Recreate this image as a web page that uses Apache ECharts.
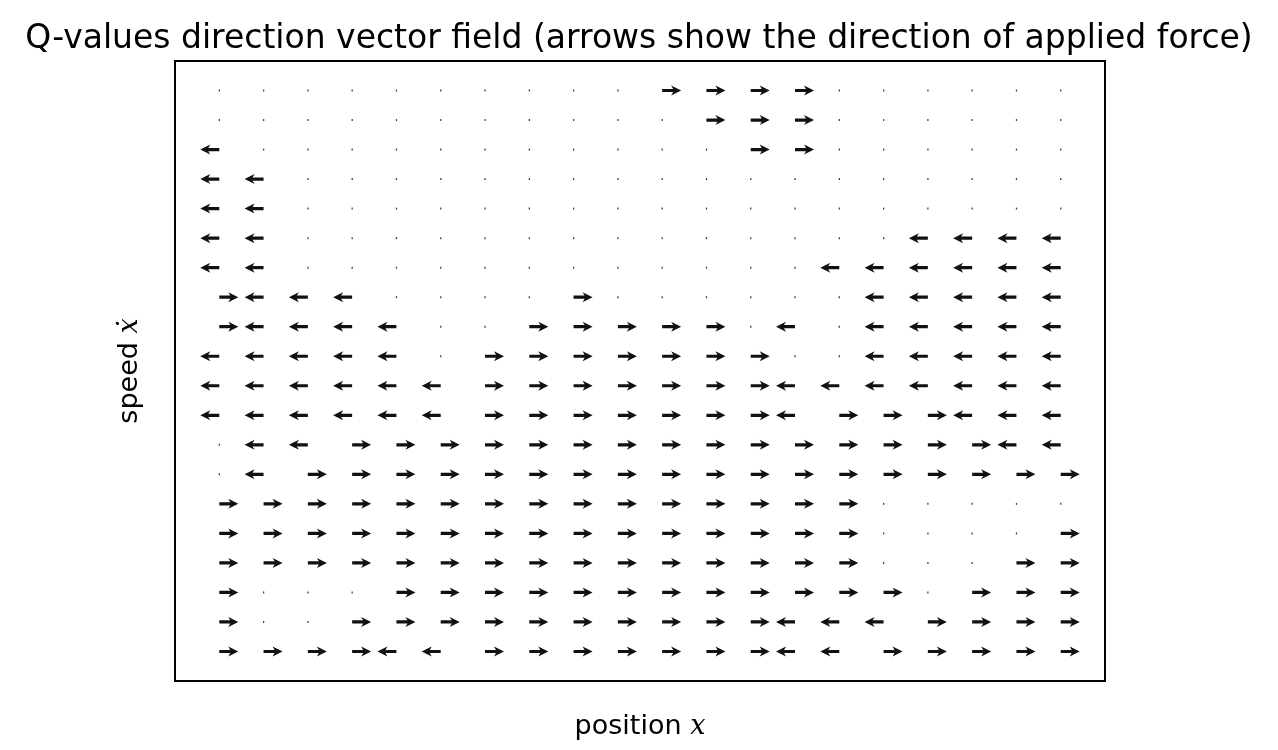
<!DOCTYPE html>
<html>
<head>
<meta charset="utf-8">
<script src="https://cdn.jsdelivr.net/npm/echarts@6/dist/echarts.min.js"></script>
<style>html,body{margin:0;background:#fff}#main{width:1278px;height:750px}</style>
</head>
<body>
<div id="main"></div>
<script>
// grid of chosen actions: -1 push left, 0 none, 1 push right (row 0 = top)
var positions = [0,1,2,3,4,5,6,7,8,9,10,11,12,13,14,15,16,17,18,19];
var speeds = [0,1,2,3,4,5,6,7,8,9,10,11,12,13,14,15,16,17,18,19];
var directions = [
    [0,0,0,0,0,0,0,0,0,0,1,1,1,1,0,0,0,0,0,0],
    [0,0,0,0,0,0,0,0,0,0,0,1,1,1,0,0,0,0,0,0],
    [-1,0,0,0,0,0,0,0,0,0,0,0,1,1,0,0,0,0,0,0],
    [-1,-1,0,0,0,0,0,0,0,0,0,0,0,0,0,0,0,0,0,0],
    [-1,-1,0,0,0,0,0,0,0,0,0,0,0,0,0,0,0,0,0,0],
    [-1,-1,0,0,0,0,0,0,0,0,0,0,0,0,0,0,-1,-1,-1,-1],
    [-1,-1,0,0,0,0,0,0,0,0,0,0,0,0,-1,-1,-1,-1,-1,-1],
    [1,-1,-1,-1,0,0,0,0,1,0,0,0,0,0,0,-1,-1,-1,-1,-1],
    [1,-1,-1,-1,-1,0,0,1,1,1,1,1,0,-1,0,-1,-1,-1,-1,-1],
    [-1,-1,-1,-1,-1,0,1,1,1,1,1,1,1,0,0,-1,-1,-1,-1,-1],
    [-1,-1,-1,-1,-1,-1,1,1,1,1,1,1,1,-1,-1,-1,-1,-1,-1,-1],
    [-1,-1,-1,-1,-1,-1,1,1,1,1,1,1,1,-1,1,1,1,-1,-1,-1],
    [0,-1,-1,1,1,1,1,1,1,1,1,1,1,1,1,1,1,1,-1,-1],
    [0,-1,1,1,1,1,1,1,1,1,1,1,1,1,1,1,1,1,1,1],
    [1,1,1,1,1,1,1,1,1,1,1,1,1,1,1,0,0,0,0,0],
    [1,1,1,1,1,1,1,1,1,1,1,1,1,1,1,0,0,0,0,1],
    [1,1,1,1,1,1,1,1,1,1,1,1,1,1,1,0,0,0,1,1],
    [1,0,0,0,1,1,1,1,1,1,1,1,1,1,1,1,0,1,1,1],
    [1,0,0,1,1,1,1,1,1,1,1,1,1,-1,-1,-1,1,1,1,1],
    [1,1,1,1,-1,-1,1,1,1,1,1,1,1,-1,-1,1,1,1,1,1]
];

var data = [];
speeds.forEach(function (r) {
    positions.forEach(function (c) {
        data.push([c, r, directions[r][c]]);
    });
});

var myChart = echarts.init(document.getElementById('main'));

function renderArrow(params, api) {
    var p = api.coord([api.value(0), api.value(1)]);
    var d = api.value(2);
    if (d === 0) {
        return {type: 'rect', shape: {x: p[0] - 0.6, y: p[1] - 1, width: 1.3, height: 2},
            style: {fill: '#444'}};
    }
    var x = p[0], y = p[1];
    var pts = [
        [x, y - 1.6], [x + d * 11, y - 1.6], [x + d * 9, y - 5], [x + d * 19, y],
        [x + d * 9, y + 5], [x + d * 11, y + 1.6], [x, y + 1.6]
    ];
    return {type: 'polygon', shape: {points: pts}, style: {fill: '#111'}};
}

var option = {
    animation: false,
    title: {
        text: 'Q-values direction vector field (arrows show the direction of applied force)',
        left: 'center', top: 18,
        textStyle: {fontFamily: 'DejaVu Sans', fontSize: 33, fontWeight: 'normal', color: '#000'}
    },
    grid: {left: 175, right: 173, top: 61, bottom: 69, show: true, borderColor: '#000', borderWidth: 2},
    xAxis: {
        type: 'value', min: -1, max: 20,
        name: 'position {i|x}', nameLocation: 'middle', nameGap: 32,
        nameTextStyle: {fontFamily: 'DejaVu Sans', fontSize: 27, color: '#000',
            rich: {i: {fontFamily: 'DejaVu Serif', fontStyle: 'italic', fontSize: 27}}},
        axisLine: {show: false}, axisTick: {show: false}, axisLabel: {show: false}, splitLine: {show: false}
    },
    yAxis: {
        type: 'value', min: -1, max: 20, inverse: true,
        name: 'speed {i|\u1E8B}', nameLocation: 'middle', nameGap: 32,
        nameTextStyle: {fontFamily: 'DejaVu Sans', fontSize: 27, color: '#000',
            rich: {i: {fontFamily: 'DejaVu Serif', fontStyle: 'italic', fontSize: 27}}},
        axisLine: {show: false}, axisTick: {show: false}, axisLabel: {show: false}, splitLine: {show: false}
    },
    series: [{
        type: 'custom',
        renderItem: renderArrow,
        data: data
    }]
};

myChart.setOption(option);
</script>
</body>
</html>
